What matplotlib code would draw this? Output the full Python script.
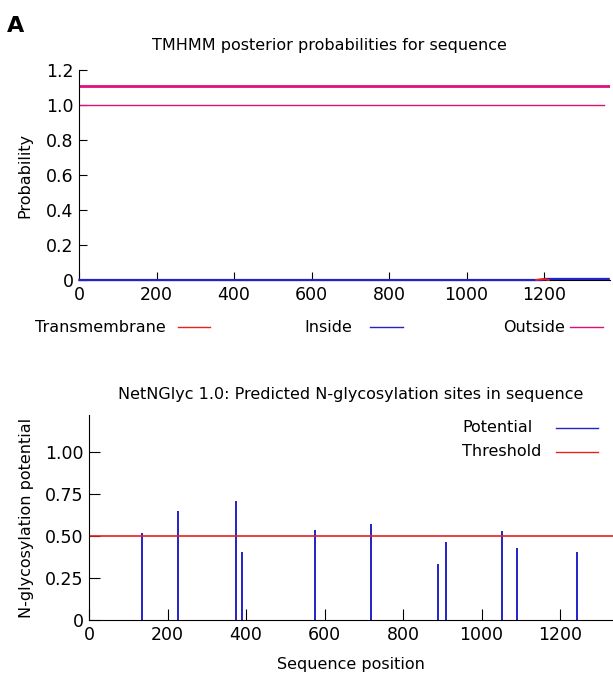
import matplotlib
matplotlib.use("Agg")
import matplotlib.pyplot as plt

# TMHMM panel data
seq_len = 1370
topo_x = [1, 1367]
topo_y = [1.11, 1.11]
outside_x = [1, 1355]
outside_y = [1.0, 1.0]
inside_x = [1, 1195, 1205, 1367]
inside_y = [0.0, 0.0, 0.006, 0.006]
tm_x = [1180, 1198, 1212]
tm_y = [0.0, 0.006, 0.0]
tm_ticks = [0, 200, 400, 600, 800, 1000, 1200]
tm_yticks = [0, 0.2, 0.4, 0.6, 0.8, 1.0, 1.2]
tm_ylabels = ["0", "0.2", "0.4", "0.6", "0.8", "1.0", "1.2"]

# NetNGlyc panel data
site_pos = [136, 226, 375, 391, 576, 719, 889, 910, 1053, 1090, 1243]
site_pot = [0.516, 0.646, 0.708, 0.404, 0.536, 0.570, 0.336, 0.462, 0.532, 0.426, 0.404]
threshold = 0.5
ng_ticks = [0, 200, 400, 600, 800, 1000, 1200]
ng_yticks = [0, 0.25, 0.5, 0.75, 1.0]
ng_ylabels = ["0", "0.25", "0.50", "0.75", "1.00"]

magenta = "#e0107a"
blue = "#2323c8"
red = "#e82020"

plt.rcParams['font.family'] = ['DejaVu Sans']
fig = plt.figure(figsize=(6.13, 6.77), dpi=100)

fig.text(0.012, 0.962, "A", fontsize=16, fontweight="heavy", ha="left", va="center")

# ---- top panel
ax1 = fig.add_axes([0.1289, 0.5864, 0.866, 0.3102])
ax1.plot(topo_x, topo_y, color=magenta, lw=2)
ax1.plot(outside_x, outside_y, color=magenta, lw=1)
ax1.plot(inside_x, inside_y, color=blue, lw=1.6, zorder=4, clip_on=False)
ax1.plot(tm_x, tm_y, color=red, lw=1.4, zorder=5, clip_on=False)
ax1.set_xlim(0, seq_len)
ax1.set_ylim(0, 1.2)
ax1.set_xticks(tm_ticks)
ax1.set_yticks(tm_yticks)
ax1.set_yticklabels(tm_ylabels)
ax1.spines["top"].set_visible(False)
ax1.spines["right"].set_visible(False)
ax1.tick_params(direction="in", labelsize=12.5, length=6, pad=4)
ax1.set_ylabel("Probability", fontsize=11.5, labelpad=10)
fig.text(0.538, 0.933, "TMHMM posterior probabilities for sequence",
         fontsize=11.5, ha="center", va="center")

# legend row under top panel
leg_y = 1 - 327 / 677
fig.text(0.27, leg_y, "Transmembrane", fontsize=11.5, ha="right", va="center")
fig.add_artist(plt.Line2D([178 / 613, 210 / 613], [leg_y, leg_y], color=red, lw=1))
fig.text(0.575, leg_y, "Inside", fontsize=11.5, ha="right", va="center")
fig.add_artist(plt.Line2D([370 / 613, 403 / 613], [leg_y, leg_y], color=blue, lw=1))
fig.text(0.922, leg_y, "Outside", fontsize=11.5, ha="right", va="center")
fig.add_artist(plt.Line2D([570 / 613, 603 / 613], [leg_y, leg_y], color=magenta, lw=1))

# ---- bottom panel
ax2 = fig.add_axes([0.1452, 0.0842, 0.8548, 0.3028])
ax2.vlines(site_pos, 0, site_pot, color=blue, lw=1.4)
ax2.axhline(threshold, color=red, lw=1.2)
ax2.set_xlim(0, 1335)
ax2.set_ylim(0, 1.22)
ax2.set_xticks(ng_ticks)
ax2.set_yticks(ng_yticks)
ax2.set_yticklabels(ng_ylabels)
ax2.spines["top"].set_visible(False)
ax2.spines["right"].set_visible(False)
ax2.tick_params(direction="in", labelsize=12.5, length=8, pad=4)
ax2.set_ylabel("N-glycosylation potential", fontsize=11.5, labelpad=8)
ax2.set_xlabel("Sequence position", fontsize=11.5, labelpad=10)
fig.text(0.572, 1 - 395 / 677, "NetNGlyc 1.0: Predicted N-glycosylation sites in sequence",
         fontsize=11.5, ha="center", va="center")

# legend, drawn by hand: text left aligned, line to the right
for label, col, ypx in [("Potential", blue, 428), ("Threshold", red, 452)]:
    yy = 1 - ypx / 677
    fig.text(462 / 613, yy, label, fontsize=11.5, ha="left", va="center")
    fig.add_artist(plt.Line2D([556 / 613, 598 / 613], [yy, yy], color=col, lw=1))

fig.savefig("out.png", dpi=100)
